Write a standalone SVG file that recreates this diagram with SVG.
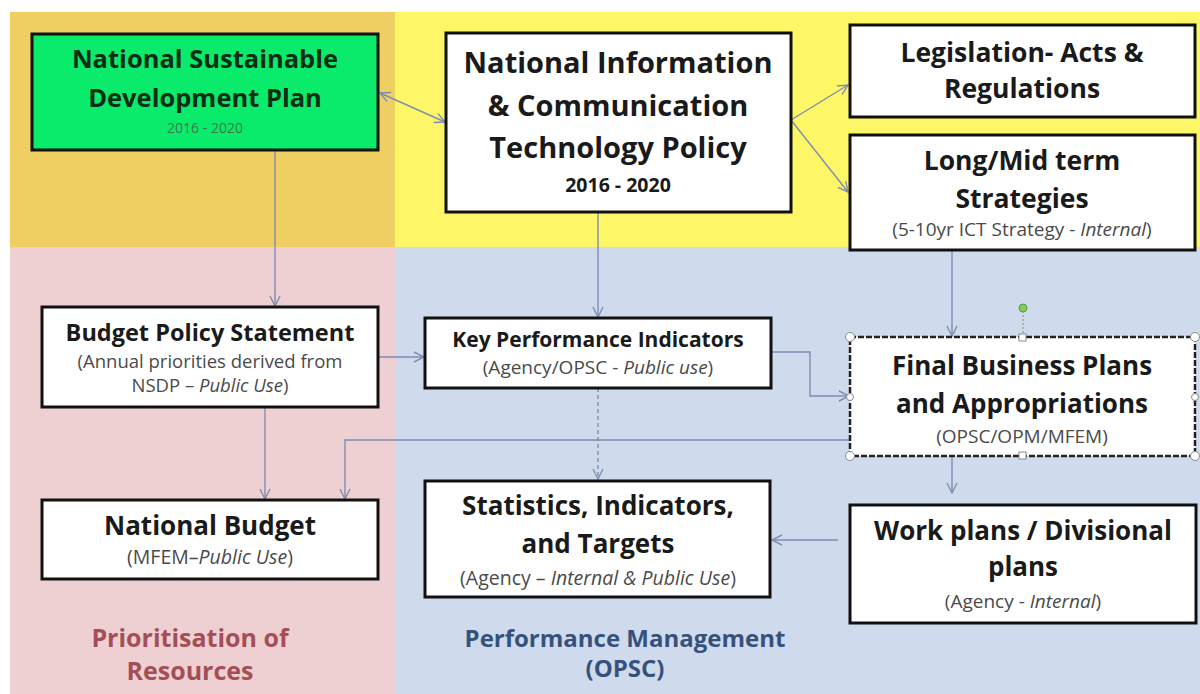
<svg xmlns="http://www.w3.org/2000/svg" width="1200" height="694" viewBox="0 0 1200 694">
<style>
.t{font-family:"Open Sans","Liberation Sans",sans-serif;font-weight:bold;fill:#1a1a1a;text-anchor:middle}
.s{font-family:"Open Sans","Liberation Sans",sans-serif;font-weight:normal;fill:#4a4a4a;text-anchor:middle}
.g{fill:#0c2e16}
.r{fill:#a54e58}
.b{fill:#36527c}
.box{fill:#fff;stroke:#111;stroke-width:3}
.c{fill:none;stroke:#7f8db0;stroke-width:1.4}
.h{fill:#fff;stroke:#8a8a8a;stroke-width:1}
</style>
<defs>
<marker id="a" viewBox="0 0 12 12" refX="11" refY="6" markerWidth="12" markerHeight="12" markerUnits="userSpaceOnUse" orient="auto-start-reverse">
<path d="M1,1 L11,6 L1,11" fill="none" stroke="#7f8db0" stroke-width="1.4"/>
</marker>
</defs>
<rect width="1200" height="694" fill="#fff"/>
<rect x="10" y="12" width="385" height="235" fill="#efcf62"/>
<rect x="395" y="12" width="805" height="235" fill="#fdf768"/>
<rect x="10" y="247" width="385" height="447" fill="#efd0d2"/>
<rect x="395" y="247" width="805" height="447" fill="#cfdbed"/>

<g id="connectors">
<path class="c" d="M380,93 L445,122" marker-start="url(#a)" marker-end="url(#a)"/>
<path class="c" d="M791,120 L848,85" marker-end="url(#a)"/>
<path class="c" d="M791,120 L848,192" marker-end="url(#a)"/>
<path class="c" d="M275,150 V306" marker-end="url(#a)"/>
<path class="c" d="M598,212 V317" marker-end="url(#a)"/>
<path class="c" d="M378,357 H424" marker-end="url(#a)"/>
<path class="c" d="M771,352 H810 V396 H849" marker-end="url(#a)"/>
<path class="c" d="M598,388 V479" stroke-dasharray="4,3" marker-end="url(#a)"/>
<path class="c" d="M952,250 V336" marker-end="url(#a)"/>
<path class="c" d="M850,440 H345 V499" marker-end="url(#a)"/>
<path class="c" d="M265,407 V499" marker-end="url(#a)"/>
<path class="c" d="M952,456 V493" marker-end="url(#a)"/>
<path class="c" d="M838,540 H772" marker-end="url(#a)"/>
</g>

<g id="nsdp">
<rect x="32" y="34" width="346" height="116" fill="#0aeb6b" stroke="#111" stroke-width="3"/>
<text class="t g" x="205" y="68" font-size="25.5">National Sustainable</text>
<text class="t g" x="205" y="107" font-size="25.5">Development Plan</text>
<text class="s" x="205" y="133" font-size="14" style="fill:#3a7a4a">2016 - 2020</text>
</g>

<g id="nict">
<rect class="box" x="446" y="33" width="345" height="179"/>
<text class="t" x="618" y="73" font-size="29">National Information</text>
<text class="t" x="618" y="116" font-size="29">&amp; Communication</text>
<text class="t" x="618" y="158" font-size="29">Technology Policy</text>
<text class="t" x="618" y="192" font-size="19.5">2016 - 2020</text>
</g>

<g id="legislation">
<rect class="box" x="850" y="25" width="345" height="92"/>
<text class="t" x="1022" y="62" font-size="26.5">Legislation- Acts &amp;</text>
<text class="t" x="1022" y="98" font-size="26.5">Regulations</text>
</g>

<g id="longmid">
<rect class="box" x="850" y="135" width="345" height="115"/>
<text class="t" x="1022" y="170" font-size="26.5">Long/Mid term</text>
<text class="t" x="1022" y="208" font-size="26.5">Strategies</text>
<text class="s" x="1022" y="236" font-size="19">(5-10yr ICT Strategy - <tspan font-style="italic">Internal</tspan>)</text>
</g>

<g id="bps">
<rect class="box" x="42" y="307" width="336" height="100"/>
<text class="t" x="210" y="341" font-size="23.5">Budget Policy Statement</text>
<text class="s" x="210" y="368" font-size="18.5">(Annual priorities derived from</text>
<text class="s" x="210" y="392" font-size="18.5">NSDP – <tspan font-style="italic">Public Use</tspan>)</text>
</g>

<g id="kpi">
<rect class="box" x="425" y="318" width="346" height="70"/>
<text class="t" x="598" y="347" font-size="21">Key Performance Indicators</text>
<text class="s" x="598" y="374" font-size="19">(Agency/OPSC - <tspan font-style="italic">Public use</tspan>)</text>
</g>

<g id="fbp">
<rect x="850" y="337" width="345" height="119" fill="#fff" stroke="#222" stroke-width="2.5" stroke-dasharray="6,2"/>
<text class="t" x="1022" y="375" font-size="26">Final Business Plans</text>
<text class="t" x="1022" y="413" font-size="26">and Appropriations</text>
<text class="s" x="1022" y="443" font-size="19">(OPSC/OPM/MFEM)</text>
<line x1="1023" y1="311" x2="1023" y2="334" stroke="#8a8a8a" stroke-width="1" stroke-dasharray="2,2"/>
<circle cx="1023" cy="308" r="4" fill="#7ed05a" stroke="#5a9a3a" stroke-width="1"/>
<circle class="h" cx="850" cy="337" r="4.5"/>
<circle class="h" cx="1195" cy="337" r="4.5"/>
<circle class="h" cx="850" cy="456" r="4.5"/>
<circle class="h" cx="1195" cy="456" r="4.5"/>
<circle class="h" cx="850" cy="397" r="3.5"/>
<circle class="h" cx="1195" cy="397" r="3.5"/>
<rect class="h" x="1019" y="334" width="7" height="7"/>
<rect class="h" x="1019" y="452" width="7" height="7"/>
</g>

<g id="budget">
<rect class="box" x="42" y="500" width="336" height="79"/>
<text class="t" x="210" y="535" font-size="26">National Budget</text>
<text class="s" x="210" y="564" font-size="19.5">(MFEM–<tspan font-style="italic">Public Use</tspan>)</text>
</g>

<g id="stats">
<rect class="box" x="425" y="481" width="345" height="116"/>
<text class="t" x="598" y="515" font-size="26">Statistics, Indicators,</text>
<text class="t" x="598" y="553" font-size="26">and Targets</text>
<text class="s" x="598" y="585" font-size="19.5">(Agency – <tspan font-style="italic">Internal &amp; Public Use</tspan>)</text>
</g>

<g id="workplans">
<rect class="box" x="850" y="505" width="346" height="118"/>
<text class="t" x="1023" y="540" font-size="26">Work plans / Divisional</text>
<text class="t" x="1023" y="576" font-size="26">plans</text>
<text class="s" x="1023" y="608" font-size="19">(Agency - <tspan font-style="italic">Internal</tspan>)</text>
</g>

<g id="labels">
<text class="t r" x="190" y="647" font-size="25">Prioritisation of</text>
<text class="t r" x="190" y="680" font-size="25">Resources</text>
<text class="t b" x="625" y="647" font-size="24">Performance Management</text>
<text class="t b" x="625" y="677" font-size="24">(OPSC)</text>
</g>
</svg>
